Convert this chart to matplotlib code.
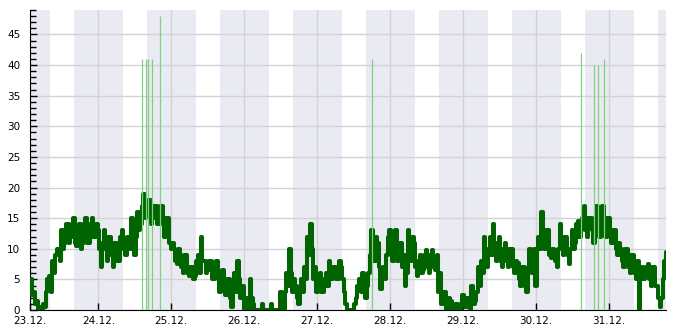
import matplotlib
matplotlib.use("Agg")
import matplotlib.pyplot as plt
import pandas as pd
from datetime import datetime, timedelta

# half-hourly wind speed, starting 23.12. 01:00
start = datetime(2013, 12, 23, 1, 0)
speed = [
    5, 4, 5, 2.5, 3, 1, 1.5, 0, 0.5, 0,
    1, 0.5, 3, 5, 5.5, 3, 8, 6, 9, 10,
    10, 8, 13, 10, 11, 14, 14, 11, 12, 14,
    15, 11, 10.5, 13, 14, 10, 11, 14, 15, 11,
    11, 14, 15, 12, 12, 14, 13, 10, 7, 11,
    13, 10, 8, 12, 12, 9, 7, 11, 11, 8,
    8, 12, 13, 10, 9, 12, 12, 10, 15, 11,
    9, 12, 16, 13, 14, 17, 19, 15, 16, 18,
    18, 14, 15, 17, 17, 14, 14, 17, 17, 14,
    12, 15, 15, 11, 10, 11, 10, 8, 7.5, 10,
    9, 7, 6, 9, 9, 6, 5.5, 7, 7, 5,
    5.5, 8, 9, 6, 12, 8, 8, 6, 6.5, 8,
    8, 5, 5, 7, 8, 5, 3, 6, 6.5, 4,
    2.5, 5, 5, 2, 0.5, 3, 6, 3, 8, 5,
    2, 4, 0, 1, 2, 0, 5, 2, 1, 0,
    0, 0, 0, 0, 1, 0, 0, 0, 0, 0,
    1, 0, 0, 0, 0, 0, 3, 1, 0, 3,
    6, 4, 10, 6, 3, 5, 4, 2, 1, 3,
    5, 3, 7, 5, 12, 9, 14, 10, 5, 7,
    3, 5, 6, 3, 3, 5, 6, 4, 8, 5,
    5, 7, 7, 5, 5, 8, 7, 5, 3, 1,
    0, 0, 0, 0, 0, 1, 2, 4, 5, 3,
    6, 3, 2, 4, 6, 9, 13, 9, 8, 12,
    11, 7, 3.5, 6, 7, 5, 9, 12, 13, 9,
    8, 11, 13, 8, 9, 11, 7, 9, 4, 6,
    13, 9, 8, 12, 11, 7, 5.5, 8, 9, 6,
    6.5, 9, 9.8, 7, 6, 9, 9.8, 7, 6.5, 9,
    3, 6, 1, 3, 3, 0, 0, 2, 1.5, 0,
    0, 1, 1, 0, 0, 1, 2.5, 1, 0.5, 2,
    2, 0, 4, 1, 1.5, 3, 7, 4, 8, 6,
    12, 8, 7, 10, 12, 9, 14, 10, 8, 11,
    12, 8, 7, 10, 11, 8, 7, 10, 10, 7,
    6, 8, 7.6, 5, 4, 7, 7, 4, 3, 6,
    10, 7, 6, 10, 4, 10, 12, 10, 16, 12,
    10, 13, 13, 9, 8.5, 10, 9.8, 8, 7, 10,
    14, 11, 9, 12, 12, 9, 7.5, 10, 13, 10,
    11, 14, 14.6, 12, 13, 15, 17, 13, 12, 15,
    15, 13, 11, 15, 17, 13, 12, 16, 17, 13,
    12, 15, 15, 12, 11, 13, 13, 10, 9, 11,
    10, 8, 7, 10, 10, 7, 6, 9, 9, 6,
    5, 8, 0, 5, 7, 5, 5.5, 7, 7.5, 5,
    4, 7, 7, 4, 4, 2, 0.5, 2, 5, 8,
    9.5, 8,
]

# gust spikes: time and peak
gust_times = [
    datetime(2013, 12, 24, 14, 30), datetime(2013, 12, 24, 15, 48),
    datetime(2013, 12, 24, 16, 18), datetime(2013, 12, 24, 17, 48),
    datetime(2013, 12, 24, 20, 24), datetime(2013, 12, 27, 18, 0),
    datetime(2013, 12, 30, 14, 54), datetime(2013, 12, 30, 19, 12),
    datetime(2013, 12, 30, 20, 30), datetime(2013, 12, 30, 22, 30),
]
gust_peaks = [41, 41, 41, 41, 48, 41, 42, 40, 40, 41]

day_labels = ["23.12.", "24.12.", "25.12.", "26.12.", "27.12.",
              "28.12.", "29.12.", "30.12.", "31.12."]

x_start = datetime(2013, 12, 23, 1, 30)
x_end = datetime(2013, 12, 31, 18, 45)

times = pd.date_range(start, periods=len(speed), freq="30min")

fig = plt.figure(figsize=(6.85, 3.3), dpi=100)
ax = fig.add_axes([30 / 685, 20 / 330, 636 / 685, 300 / 330])

# night shading
day = datetime(2013, 12, 22)
while day < x_end:
    ax.axvspan(day + timedelta(hours=16, minutes=5),
               day + timedelta(days=1, hours=8, minutes=10),
               color="#eaeaf2", lw=0, zorder=0)
    day += timedelta(days=1)

ax.plot(times, speed, color="#006400", lw=2.9, drawstyle="steps-mid",
        zorder=3)
ax.vlines(gust_times, 0, gust_peaks, color="#80d080", lw=0.9, zorder=4)

ax.set_xlim(x_start, x_end)
ax.set_ylim(0, 49)

ticks = [x_start] + [datetime(2013, 12, 24) + timedelta(days=i) for i in range(8)]
ax.set_xticks(ticks)
ax.set_xticklabels(day_labels)
ax.set_yticks(range(0, 50, 5))
ax.set_yticks(range(0, 50), minor=True)

ax.grid(True, which="major", color="#d2d2d6", lw=1, zorder=1)
ax.set_axisbelow(True)
for s in ("top", "right"):
    ax.spines[s].set_visible(False)
ax.tick_params(axis="both", direction="in", labelsize=7.5, length=5,
               width=1, colors="black")
ax.tick_params(axis="y", which="minor", direction="in", length=4, width=1)
ax.tick_params(axis="y", pad=7)
ax.tick_params(axis="x", pad=4)

fig.savefig("out.png", dpi=100)
